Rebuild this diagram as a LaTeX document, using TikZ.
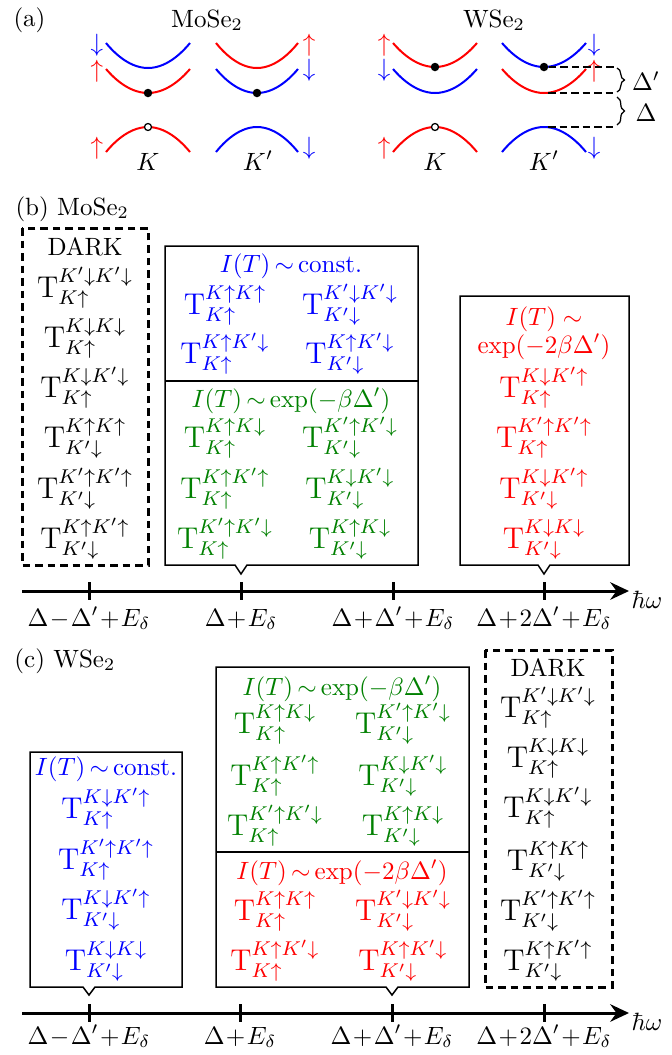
\documentclass[tikz,border=0pt]{standalone}
\usetikzlibrary{arrows.meta,decorations.pathreplacing}
\definecolor{myblue}{RGB}{0,0,255}
\definecolor{myred}{RGB}{255,0,0}
\definecolor{mygreen}{RGB}{0,128,0}
\newcommand\Tx[2]{$\mathrm{T}^{#1}_{#2}$}
\newcommand\Ku{K\uparrow}
\newcommand\Kd{K\downarrow}
\newcommand\Kpu{K'\uparrow}
\newcommand\Kpd{K'\downarrow}
\newcommand\tsim{\mskip-2mu\sim\mskip-2mu}
\begin{document}
\begin{tikzpicture}[x=0.4pt,y=-0.4pt,
  band/.style={line width=0.8pt},
  spin/.style={inner sep=0pt},
  item/.style={anchor=base, font=\large, inner sep=0pt},
  ttl/.style={anchor=base, inner sep=0pt},
  boxline/.style={line width=0.6pt},
  darkbox/.style={line width=1.2pt, dash pattern=on 3pt off 2pt},
  axisline/.style={line width=1.2pt, -{Stealth[length=7.5pt,width=7pt,inset=2.5pt]}},
  tickline/.style={line width=1.2pt},
  dot/.style={circle, fill=black, inner sep=0pt, minimum size=3.4pt},
  hole/.style={circle, draw=black, fill=white, inner sep=0pt, minimum size=2.8pt, line width=0.5pt},
  guide/.style={line width=0.5pt, dash pattern=on 3pt off 1.6pt},
  bracestyle/.style={line width=0.5pt, decorate, decoration={brace, amplitude=3pt}}
]
\useasboundingbox (0,0) rectangle (672,1055);

% ---------------- panel (a) ----------------
\node[anchor=base west, inner sep=0pt] (la) at (13,26) {(a)};
\node[ttl] (tmo) at (207,27) {MoSe$_2$};
\node[ttl] (tw) at (494,27) {WSe$_2$};

% MoSe2 K
\draw[band, myblue] (106,43) parabola bend (148,68) (190,43);
\draw[band, myred] (106,69) parabola bend (148,93) (190,69);
\draw[band, myred] (106,152) parabola bend (148,127) (190,152);
% MoSe2 K'
\draw[band, myred] (216,43) parabola bend (257,68) (298,43);
\draw[band, myblue] (216,69) parabola bend (257,93) (298,69);
\draw[band, myblue] (216,152) parabola bend (257,127) (298,152);
\node[dot] (d1) at (148,93) {};
\node[dot] (d2) at (257,93) {};
\node[hole] (h1) at (148,127) {};
\node[spin, myblue] (s1) at (97,45) {$\downarrow$};
\node[spin, myred] (s2) at (97,71) {$\uparrow$};
\node[spin, myred] (s3) at (97,148) {$\uparrow$};
\node[spin, myred] (s4) at (309,45) {$\uparrow$};
\node[spin, myblue] (s5) at (309,70) {$\downarrow$};
\node[spin, myblue] (s6) at (309,148) {$\downarrow$};
\node[ttl] (k1) at (148,170) {$K$};
\node[ttl] (k2) at (258,170) {$K'$};

% WSe2 K
\draw[band, myred] (393,43) parabola bend (435,67) (477,43);
\draw[band, myblue] (393,69) parabola bend (435,93) (477,69);
\draw[band, myred] (393,152) parabola bend (435,127) (477,152);
% WSe2 K'
\draw[band, myblue] (502,43) parabola bend (544,67) (586,43);
\draw[band, myred] (502,69) parabola bend (544,93) (586,69);
\draw[band, myblue] (502,152) parabola bend (544,127) (586,152);
\node[dot] (d3) at (435,67) {};
\node[dot] (d4) at (544,67) {};
\node[hole] (h2) at (435,127) {};
\node[spin, myred] (s7) at (384,45) {$\uparrow$};
\node[spin, myblue] (s8) at (384,70) {$\downarrow$};
\node[spin, myred] (s9) at (384,148) {$\uparrow$};
\node[spin, myblue] (s10) at (594,45) {$\downarrow$};
\node[spin, myred] (s11) at (594,71) {$\uparrow$};
\node[spin, myblue] (s12) at (594,148) {$\downarrow$};
\node[ttl] (k3) at (435,170) {$K$};
\node[ttl] (k4) at (544,170) {$K'$};

\coordinate (g1) at (614,67);
\coordinate (g2a) at (548,93);
\coordinate (g2) at (614,93);
\coordinate (g3a) at (548,127);
\coordinate (g3) at (614,127);
\draw[guide] (d4) -- (g1);
\draw[guide] (g2a) -- (g2);
\draw[guide] (g3a) -- (g3);
\draw[bracestyle] (617,68) -- (617,92);
\draw[bracestyle] (617,97) -- (617,125);
\node (dp) at (646,81) {$\Delta'$};
\node (dd) at (646,113) {$\Delta$};

% ---------------- panel (b) ----------------
\node[anchor=base west, inner sep=0pt] (lb) at (15,215) {(b) MoSe$_2$};

\draw[darkbox] (22,228) rectangle (148,565);
\node[ttl] (bdark) at (85,255) {DARK};
\node[item] (bd1) at (85,297) {\Tx{\Kpd\Kpd}{\Ku}};
\node[item] (bd2) at (85,347) {\Tx{\Kd\Kd}{\Ku}};
\node[item] (bd3) at (85,397) {\Tx{\Kd\Kpd}{\Ku}};
\node[item] (bd4) at (85,447) {\Tx{\Ku\Ku}{\Kpd}};
\node[item] (bd5) at (85,498) {\Tx{\Kpu\Kpu}{\Kpd}};
\node[item] (bd6) at (85,548) {\Tx{\Ku\Kpu}{\Kpd}};

\draw[boxline] (165,246) -- (418,246) -- (418,565) -- (247,565) -- (241,574) -- (235,565) -- (165,565) -- cycle;
\draw[boxline] (165,381) -- (418,381);
\node[ttl, myblue] (bbt) at (291,272) {$I(T)\tsim\mathrm{const.}$};
\node[item, myblue] (bb1) at (225,314) {\Tx{\Ku\Ku}{\Ku}};
\node[item, myblue] (bb2) at (350,314) {\Tx{\Kpd\Kpd}{\Kpd}};
\node[item, myblue] (bb3) at (225,363) {\Tx{\Ku\Kpd}{\Ku}};
\node[item, myblue] (bb4) at (350,363) {\Tx{\Ku\Kpd}{\Kpd}};
\node[ttl, mygreen] (bgt) at (291,407) {$I(T)\tsim\exp(-\beta\Delta')$};
\node[item, mygreen] (bg1) at (225,447) {\Tx{\Ku\Kd}{\Ku}};
\node[item, mygreen] (bg2) at (350,447) {\Tx{\Kpu\Kpd}{\Kpd}};
\node[item, mygreen] (bg3) at (225,498) {\Tx{\Ku\Kpu}{\Ku}};
\node[item, mygreen] (bg4) at (350,498) {\Tx{\Kd\Kpd}{\Kpd}};
\node[item, mygreen] (bg5) at (225,548) {\Tx{\Kpu\Kpd}{\Ku}};
\node[item, mygreen] (bg6) at (350,548) {\Tx{\Ku\Kd}{\Kpd}};

\draw[boxline] (460,296) -- (629,296) -- (629,565) -- (550,565) -- (544,574) -- (538,565) -- (460,565) -- cycle;
\node[ttl, myred] (brt1) at (544,325) {$I(T)\sim$};
\node[ttl, myred] (brt2) at (544,353) {$\exp(-2\beta\Delta')$};
\node[item, myred] (br1) at (544,397) {\Tx{\Kd\Kpu}{\Ku}};
\node[item, myred] (br2) at (544,447) {\Tx{\Kpu\Kpu}{\Ku}};
\node[item, myred] (br3) at (544,498) {\Tx{\Kd\Kpu}{\Kpd}};
\node[item, myred] (br4) at (544,548) {\Tx{\Kd\Kd}{\Kpd}};

\coordinate (ab0) at (22,591);
\coordinate (ab1) at (629,591);
\draw[axisline] (ab0) -- (ab1);
\foreach \xx/\nm in {89/a,241/b,393/c,544/d}{
  \coordinate (bt\nm0) at (\xx,582);
  \coordinate (bt\nm1) at (\xx,600);
  \draw[tickline] (bt\nm0) -- (bt\nm1);
}
\node[ttl] (bl1) at (89,626) {$\Delta\!-\!\Delta'\!+\!E_\delta$};
\node[ttl] (bl2) at (241,626) {$\Delta\!+\!E_\delta$};
\node[ttl] (bl3) at (393,626) {$\Delta\!+\!\Delta'\!+\!E_\delta$};
\node[ttl] (bl4) at (544,626) {$\Delta\!+\!2\Delta'\!+\!E_\delta$};
\node[anchor=base west, inner sep=0pt] (bhw) at (631,608) {$\hbar\omega$};

% ---------------- panel (c) ----------------
\node[anchor=base west, inner sep=0pt] (lc) at (14,667) {(c) WSe$_2$};

\draw[boxline] (30,752) -- (182,752) -- (182,987) -- (95,987) -- (89,995) -- (83,987) -- (30,987) -- cycle;
\node[ttl, myblue] (cbt) at (106,775) {$I(T)\tsim\mathrm{const.}$};
\node[item, myblue] (cb1) at (106,818) {\Tx{\Kd\Kpu}{\Ku}};
\node[item, myblue] (cb2) at (106,869) {\Tx{\Kpu\Kpu}{\Ku}};
\node[item, myblue] (cb3) at (106,919) {\Tx{\Kd\Kpu}{\Kpd}};
\node[item, myblue] (cb4) at (106,970) {\Tx{\Kd\Kd}{\Kpd}};

\draw[boxline] (216,667) -- (469,667) -- (469,987) -- (398,987) -- (392,995) -- (386,987) -- (216,987) -- cycle;
\draw[boxline] (216,852) -- (469,852);
\node[ttl, mygreen] (cgt) at (342,695) {$I(T)\tsim\exp(-\beta\Delta')$};
\node[item, mygreen] (cg1) at (275,733) {\Tx{\Ku\Kd}{\Ku}};
\node[item, mygreen] (cg2) at (403,733) {\Tx{\Kpu\Kpd}{\Kpd}};
\node[item, mygreen] (cg3) at (275,785) {\Tx{\Ku\Kpu}{\Ku}};
\node[item, mygreen] (cg4) at (403,785) {\Tx{\Kd\Kpd}{\Kpd}};
\node[item, mygreen] (cg5) at (275,835) {\Tx{\Kpu\Kpd}{\Ku}};
\node[item, mygreen] (cg6) at (403,835) {\Tx{\Ku\Kd}{\Kpd}};
\node[ttl, myred] (crt) at (342,879) {$I(T)\tsim\exp(-2\beta\Delta')$};
\node[item, myred] (cr1) at (275,920) {\Tx{\Ku\Ku}{\Ku}};
\node[item, myred] (cr2) at (403,920) {\Tx{\Kpd\Kpd}{\Kpd}};
\node[item, myred] (cr3) at (275,970) {\Tx{\Ku\Kpd}{\Ku}};
\node[item, myred] (cr4) at (403,970) {\Tx{\Ku\Kpd}{\Kpd}};

\draw[darkbox] (485,650) rectangle (612,987);
\node[ttl] (cdark) at (548,676) {DARK};
\node[item] (cd1) at (548,717) {\Tx{\Kpd\Kpd}{\Ku}};
\node[item] (cd2) at (548,767) {\Tx{\Kd\Kd}{\Ku}};
\node[item] (cd3) at (548,817) {\Tx{\Kd\Kpd}{\Ku}};
\node[item] (cd4) at (548,870) {\Tx{\Ku\Ku}{\Kpd}};
\node[item] (cd5) at (548,920) {\Tx{\Kpu\Kpu}{\Kpd}};
\node[item] (cd6) at (548,970) {\Tx{\Ku\Kpu}{\Kpd}};

\coordinate (ac0) at (22,1013);
\coordinate (ac1) at (629,1013);
\draw[axisline] (ac0) -- (ac1);
\foreach \xx/\nm in {89/a,240/b,392/c,544/d}{
  \coordinate (ct\nm0) at (\xx,1004);
  \coordinate (ct\nm1) at (\xx,1022);
  \draw[tickline] (ct\nm0) -- (ct\nm1);
}
\node[ttl] (cl1) at (89,1044) {$\Delta\!-\!\Delta'\!+\!E_\delta$};
\node[ttl] (cl2) at (240,1044) {$\Delta\!+\!E_\delta$};
\node[ttl] (cl3) at (392,1044) {$\Delta\!+\!\Delta'\!+\!E_\delta$};
\node[ttl] (cl4) at (544,1044) {$\Delta\!+\!2\Delta'\!+\!E_\delta$};
\node[anchor=base west, inner sep=0pt] (chw) at (631,1030) {$\hbar\omega$};
\end{tikzpicture}
\end{document}
